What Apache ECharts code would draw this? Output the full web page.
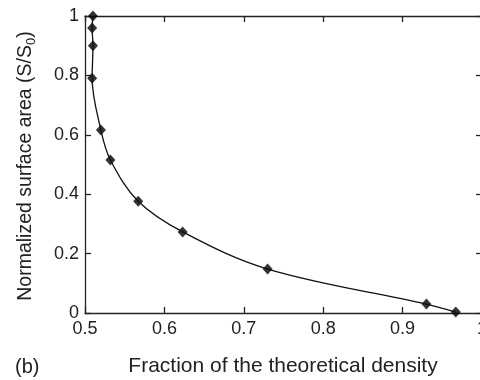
<!DOCTYPE html>
<html><head><meta charset="utf-8">
<script src="https://cdn.jsdelivr.net/npm/echarts@6/dist/echarts.min.js"></script>
<style>html,body{margin:0;padding:0;background:#fff}#c{width:480px;height:380px}</style>
</head><body><div id="c"></div>
<script>
var densities = [0.510, 0.509, 0.510, 0.509, 0.520, 0.532, 0.567, 0.623, 0.730, 0.930, 0.967];
var surfaceArea = [1.00, 0.96, 0.90, 0.79, 0.616, 0.515, 0.376, 0.273, 0.148, 0.030, 0.003];
var xTicks = [0.5, 0.6, 0.7, 0.8, 0.9, 1];
var yTicks = [0, 0.2, 0.4, 0.6, 0.8, 1];

var pts = densities.map(function (d, i) { return [d, surfaceArea[i]]; });
var font = 'Liberation Sans, Arial, sans-serif';
var axCol = '#222';
function fmt(v) { return String(Math.round(v * 10) / 10); }
function xAx(pos, show) {
  return {type: 'value', position: pos, min: 0.5, max: 1, interval: 0.1,
    axisLine: {show: true, onZero: false, lineStyle: {color: axCol, width: 1.3}},
    axisTick: {show: true, inside: true, length: 6, lineStyle: {color: axCol, width: 1.3}},
    axisLabel: {show: show, color: '#222', fontSize: 18, fontFamily: font, margin: 7, formatter: fmt},
    splitLine: {show: false}};
}
function yAx(pos, show) {
  return {type: 'value', position: pos, min: 0, max: 1, interval: 0.2,
    axisLine: {show: true, onZero: false, lineStyle: {color: axCol, width: 1.3}},
    axisTick: {show: true, inside: true, length: 6, lineStyle: {color: axCol, width: 1.3}},
    axisLabel: {show: show, color: '#222', fontSize: 18, fontFamily: font, margin: 6, formatter: fmt},
    splitLine: {show: false}};
}
var chart = echarts.init(document.getElementById('c'), null, {renderer: 'canvas'});
chart.setOption({
  animation: false,
  backgroundColor: '#fff',
  grid: {left: 85, width: 397, top: 16, height: 297, containLabel: false, outerBoundsMode: 'none'},
  xAxis: [xAx('bottom', true), xAx('top', false)],
  yAxis: [yAx('left', true), yAx('right', false)],
  series: [
    {type: 'line', data: pts, smooth: 0.35, symbol: 'none', clip: false,
     lineStyle: {color: '#111', width: 1.3}},
    {type: 'scatter', data: pts, symbol: 'diamond', symbolSize: [10, 11], clip: false,
     itemStyle: {color: '#000'}}
  ],
  graphic: [
    {type: 'text', x: 283, y: 366, style: {text: 'Fraction of the theoretical density', font: '21px ' + font, fill: '#222', align: 'center', verticalAlign: 'middle'}},
    {type: 'text', x: 15, y: 367, style: {text: '(b)', font: '20px ' + font, fill: '#222', verticalAlign: 'middle'}},
    {type: 'text', x: 26, y: 166, rotation: Math.PI / 2,
     style: {text: 'Normalized surface area (S/S{s|0})', font: '19.5px ' + font, fill: '#222',
       align: 'center', verticalAlign: 'middle',
       rich: {s: {fontSize: 13, fontFamily: font, fill: '#222', verticalAlign: 'bottom', padding: [10, 0, 0, 0]}}}}
  ]
});
</script></body></html>
